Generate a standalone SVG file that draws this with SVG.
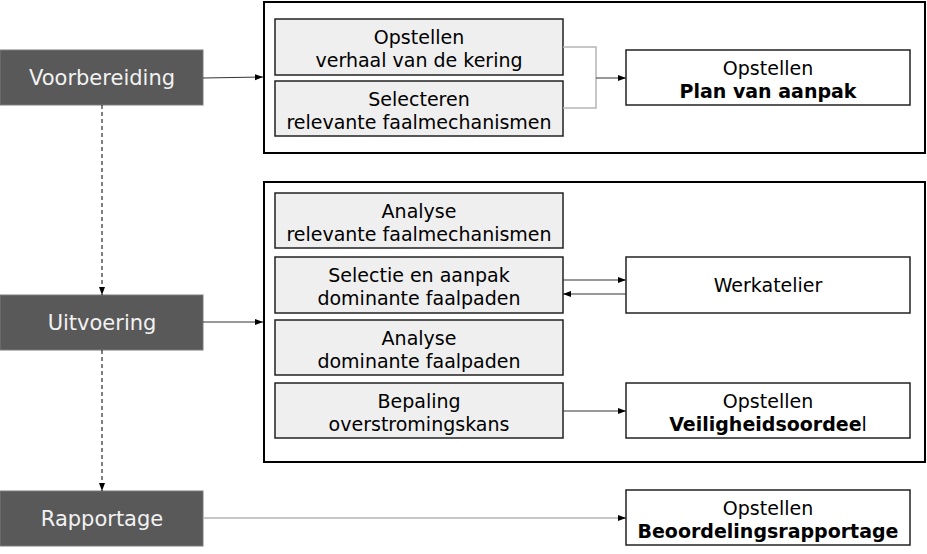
<svg xmlns="http://www.w3.org/2000/svg" width="927" height="554" viewBox="0 0 927 554">
<defs>
<marker id="ah" viewBox="0 0 8 8" refX="8" refY="4" markerWidth="8" markerHeight="8" markerUnits="userSpaceOnUse" orient="auto"><path d="M0,1 L8,4 L0,7 Z" fill="#000"/></marker>
<style>
.phase{fill:#595959;stroke:#7a7a7a;stroke-width:1}
.plabel{font-family:"DejaVu Sans",Verdana,sans-serif;font-size:21px;fill:#f2f2f2;text-anchor:middle}
.cont{fill:#fff;stroke:#000;stroke-width:2}
.gbox{fill:#efefef;stroke:#222;stroke-width:1.5}
.wbox{fill:#fff;stroke:#222;stroke-width:1.5}
.t{font-family:"DejaVu Sans",Verdana,sans-serif;font-size:19px;fill:#000;text-anchor:middle}
.b{font-weight:bold}
.ln{fill:none;stroke:#333;stroke-width:1}
.lg{fill:none;stroke:#b5b5b5;stroke-width:1.5}
.ds{fill:none;stroke:#000;stroke-width:1;stroke-dasharray:4,3}
</style>
</defs>
<rect width="927" height="554" fill="#fff"/>
<g id="container1"><rect class="cont" x="264" y="2" width="661" height="151"/></g>
<g id="container2"><rect class="cont" x="264" y="182" width="661" height="280"/></g>
<g id="voorbereiding"><rect class="phase" x="0" y="50" width="203" height="55"/><text class="plabel" x="102" y="85">Voorbereiding</text></g>
<g id="uitvoering"><rect class="phase" x="0" y="295" width="203" height="55"/><text class="plabel" x="102" y="330">Uitvoering</text></g>
<g id="rapportage"><rect class="phase" x="0" y="491" width="203" height="55"/><text class="plabel" x="102" y="526">Rapportage</text></g>
<g id="verhaal"><rect class="gbox" x="275" y="19" width="288" height="56"/><text class="t" x="419" y="44">Opstellen</text><text class="t" x="419" y="67">verhaal van de kering</text></g>
<g id="selecteren"><rect class="gbox" x="275" y="81" width="288" height="55"/><text class="t" x="419" y="106">Selecteren</text><text class="t" x="419" y="129">relevante faalmechanismen</text></g>
<g id="analyse1"><rect class="gbox" x="275" y="193" width="288" height="55"/><text class="t" x="419" y="218">Analyse</text><text class="t" x="419" y="241">relevante faalmechanismen</text></g>
<g id="selectie"><rect class="gbox" x="275" y="257" width="288" height="56"/><text class="t" x="419" y="282">Selectie en aanpak</text><text class="t" x="419" y="305">dominante faalpaden</text></g>
<g id="analyse2"><rect class="gbox" x="275" y="320" width="288" height="55"/><text class="t" x="419" y="345">Analyse</text><text class="t" x="419" y="368">dominante faalpaden</text></g>
<g id="bepaling"><rect class="gbox" x="275" y="383" width="288" height="55"/><text class="t" x="419" y="408">Bepaling</text><text class="t" x="419" y="431">overstromingskans</text></g>
<g id="plan"><rect class="wbox" x="626" y="50" width="284" height="55"/><text class="t" x="768" y="75">Opstellen</text><text class="t b" x="768" y="98">Plan van aanpak</text></g>
<g id="werkatelier"><rect class="wbox" x="626" y="257" width="284" height="56"/><text class="t" x="768" y="292">Werkatelier</text></g>
<g id="veiligheid"><rect class="wbox" x="626" y="383" width="284" height="55"/><text class="t" x="768" y="408">Opstellen</text><text class="t" x="768" y="431"><tspan class="b">Veiligheidsoordee</tspan>l</text></g>
<g id="beoordeling"><rect class="wbox" x="626" y="490" width="284" height="55"/><text class="t" x="768" y="515">Opstellen</text><text class="t b" x="768" y="538">Beoordelingsrapportage</text></g>
<g id="connectors">
<path class="ln" d="M203,78 L263,77" marker-end="url(#ah)"/>
<path class="lg" d="M563,47 H596 V108 H563"/>
<path class="ln" d="M596,78 H626" marker-end="url(#ah)"/>
<path class="ds" d="M102,105 V295" marker-end="url(#ah)"/>
<path class="ln" d="M203,322 H263" marker-end="url(#ah)"/>
<path class="ds" d="M102,350 V491" marker-end="url(#ah)"/>
<path class="ln" d="M563,280 H626" marker-end="url(#ah)"/>
<path class="ln" d="M626,294 H563" marker-end="url(#ah)"/>
<path class="ln" d="M563,411 H626" marker-end="url(#ah)"/>
<path class="lg" d="M203,518 H620"/>
<path class="ln" d="M618,518 H626" marker-end="url(#ah)"/>
</g>
</svg>
